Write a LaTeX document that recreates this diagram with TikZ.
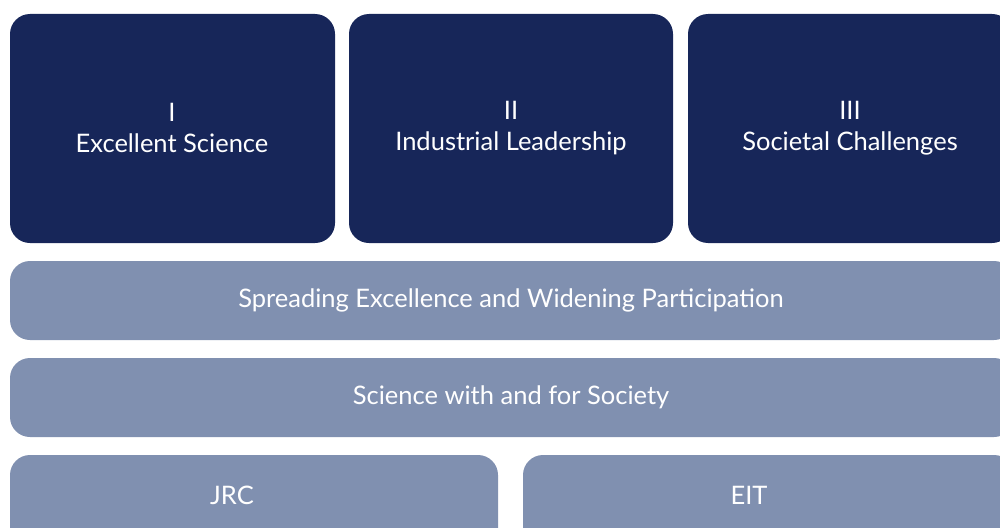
\documentclass[tikz,border=0pt]{standalone}
\usepackage{fontspec}
\setmainfont{Lato}
\definecolor{navy}{HTML}{172659}
\definecolor{slate}{HTML}{8090B0}
\begin{document}
\begin{tikzpicture}[x=1pt,y=-1pt,
  darkbox/.style={fill=navy,draw=none,rounded corners=20pt},
  lightbox/.style={fill=slate,draw=none,rounded corners=20pt},
  lbl/.style={text=white,font=\fontsize{25.5}{31}\selectfont,align=center,inner sep=0pt}]
\useasboundingbox (0,0) rectangle (1000,527);
\clip (0,0) rectangle (1000,527);
\fill[darkbox] (10,14) rectangle (335,243);
\fill[darkbox] (349,14) rectangle (673,243);
\fill[darkbox] (688,14) rectangle (1012,243);
\fill[lightbox] (10,261) rectangle (1014,340);
\fill[lightbox] (10,358) rectangle (1014,437);
\fill[lightbox] (10,455) rectangle (498,550);
\fill[lightbox] (523,455) rectangle (1014,550);
\node[lbl] (t1) at (172,128) {I\\Excellent Science};
\node[lbl] (t2) at (511,128) {II\\Industrial Leadership};
\node[lbl] (t3) at (850,128) {III\\Societal Challenges};
\node[lbl] (r1) at (511,300) {Spreading Excellence and Widening Participation};
\node[lbl] (r2) at (511,397) {Science with and for Society};
\node[lbl] (jrc) at (232,495) {JRC};
\node[lbl] (eit) at (749,495) {EIT};
\end{tikzpicture}
\end{document}
